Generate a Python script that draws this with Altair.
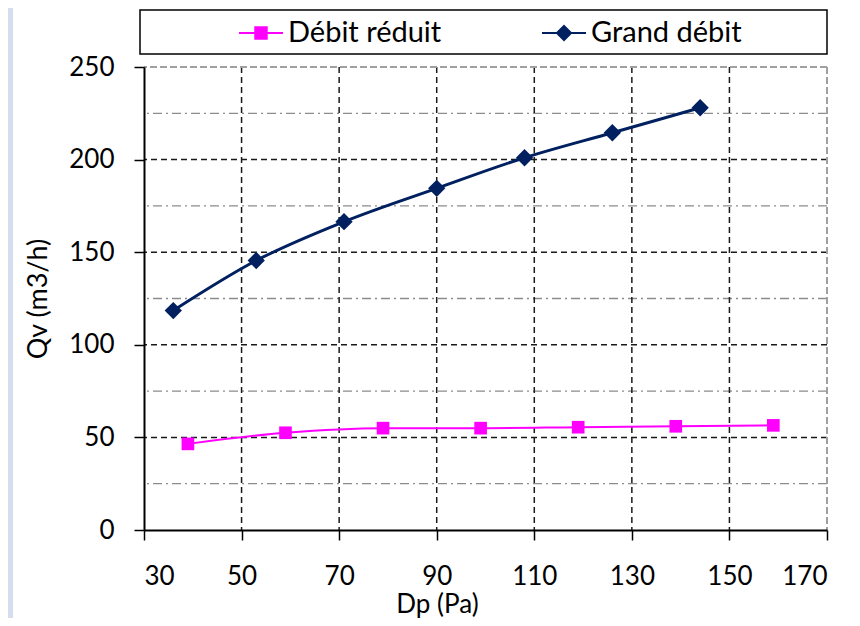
import altair as alt
import pandas as pd

# ---- data ----
series_names = ["Débit réduit", "Grand débit"]
series_colors = ["#FF00FF", "#002060"]

dp_reduit = [39, 59, 79, 99, 119, 139, 159]
qv_reduit = [46.5, 52.5, 55, 55, 55.5, 56, 56.5]

dp_grand = [36, 53, 71, 90, 108, 126, 144]
qv_grand = [118.5, 145.5, 166.5, 184.5, 201, 214.5, 228]

x_ticks = [30, 50, 70, 90, 110, 130, 150, 170]
y_ticks = [0, 50, 100, 150, 200, 250]
x_grid = [50, 70, 90, 110, 130, 150]
y_grid_major = [50, 100, 150, 200]
y_grid_minor = [25, 75, 125, 175, 225]
x_border = [170]
y_border = [250]

FONT = "Lato"
W, H = 683, 463

df = pd.DataFrame(
    {
        "Dp": dp_reduit + dp_grand,
        "Qv": qv_reduit + qv_grand,
        "Série": [series_names[0]] * len(dp_reduit) + [series_names[1]] * len(dp_grand),
    }
)

xscale = alt.Scale(domain=[30, 170], nice=False, zero=False)
yscale = alt.Scale(domain=[0, 250], nice=False)

# legend symbols: a line segment through a marker
legend_shapes = [
    "M-1,0H1M-0.26,-0.26H0.26V0.26H-0.26Z",
    "M-1,0H1M0,-0.32L0.32,0L0,0.32L-0.32,0Z",
]

x_axis = alt.Axis(
    values=x_ticks,
    title="Dp (Pa)",
    grid=False,
    domainColor="#000000",
    domainWidth=2,
    tickColor="#000000",
    tickWidth=1.5,
    tickSize=10,
    labelPadding=23,
    labelFont=FONT,
    labelFontSize=26,
    labelColor="#000000",
    titleFont=FONT,
    titleFontSize=26,
    titleFontWeight="normal",
    titleColor="#000000",
    titlePadding=2,
    titleX=293,
    titleAnchor="start",
    titleAlign="center",
    zindex=1,
)
y_axis = alt.Axis(
    values=y_ticks,
    title="Qv (m3/h)",
    grid=False,
    domainColor="#000000",
    domainWidth=2,
    tickColor="#000000",
    tickWidth=1.5,
    tickSize=10,
    labelPadding=20,
    labelFont=FONT,
    labelFontSize=26,
    labelColor="#000000",
    titleFont=FONT,
    titleFontSize=27,
    titleFontWeight="normal",
    titleColor="#000000",
    titlePadding=16,
    zindex=1,
)

one = pd.DataFrame({"a": [0]})

strip = alt.Chart(one).mark_rect(color="#D5DEEF").encode(
    x=alt.value(-136), x2=alt.value(-131), y=alt.value(-59), y2=alt.value(H + 90)
)

legend_frame = alt.Chart(one).mark_rect(
    fill="transparent", stroke="#000000", strokeWidth=1.5
).encode(x=alt.value(-4), x2=alt.value(W), y=alt.value(-57), y2=alt.value(-13))

GRID_COL = "#1A1A1A"
vgrid = alt.Chart(pd.DataFrame({"Dp": x_grid})).mark_rule(
    color=GRID_COL, strokeDash=[6, 4], strokeWidth=1.5
).encode(x=alt.X("Dp:Q", scale=xscale, axis=x_axis))

hgrid = alt.Chart(pd.DataFrame({"Qv": y_grid_major})).mark_rule(
    color=GRID_COL, strokeDash=[6, 4], strokeWidth=1.5
).encode(y=alt.Y("Qv:Q", scale=yscale, axis=y_axis))

hminor = alt.Chart(pd.DataFrame({"Qv": y_grid_minor})).mark_rule(
    color="#8C8C8C", strokeDash=[9, 4, 2, 4], strokeWidth=1.3
).encode(y=alt.Y("Qv:Q", scale=yscale, axis=y_axis))

vborder = alt.Chart(pd.DataFrame({"Dp": x_border})).mark_rule(
    color="#A0A0A0", strokeDash=[7, 3], strokeWidth=2
).encode(x=alt.X("Dp:Q", scale=xscale, axis=x_axis))

hborder = alt.Chart(pd.DataFrame({"Qv": y_border})).mark_rule(
    color="#A0A0A0", strokeDash=[7, 3], strokeWidth=2
).encode(y=alt.Y("Qv:Q", scale=yscale, axis=y_axis))

legend_def = alt.Legend(
    title=None,
    orient="none",
    direction="horizontal",
    legendX=94,
    legendY=-57,
    padding=0,
    symbolSize=1936,
    symbolStrokeWidth=2,
    symbolOpacity=1,
    labelFont=FONT,
    labelFontSize=29,
    labelColor="#000000",
    labelOffset=4,
    columnPadding=96,
    labelLimit=400,
)

color_enc = alt.Color(
    "Série:N", scale=alt.Scale(domain=series_names, range=series_colors), legend=legend_def
)
shape_enc = alt.Shape(
    "Série:N", scale=alt.Scale(domain=series_names, range=legend_shapes), legend=legend_def
)

base = alt.Chart(df).encode(
    x=alt.X("Dp:Q", scale=xscale, axis=x_axis),
    y=alt.Y("Qv:Q", scale=yscale, axis=y_axis),
    color=color_enc,
)

line_r = base.transform_filter(alt.datum["Série"] == series_names[0]).mark_line(
    interpolate="monotone", strokeWidth=2
)
line_g = base.transform_filter(alt.datum["Série"] == series_names[1]).mark_line(
    interpolate="monotone", strokeWidth=3
)
pts_r = base.transform_filter(alt.datum["Série"] == series_names[0]).mark_point(
    shape="square", filled=True, size=160, opacity=1
)
pts_g = base.transform_filter(alt.datum["Série"] == series_names[1]).mark_point(
    shape="diamond", filled=True, size=300, opacity=1
)

# legend-only layer: a shape channel with line+marker symbols, no visible data
legend_layer = (
    base.transform_filter(alt.datum["Dp"] > 1000)
    .mark_point(filled=False, opacity=1, strokeWidth=2)
    .encode(shape=shape_enc)
)

chart = (
    alt.layer(
        strip, legend_frame, hminor, vgrid, hgrid, vborder, hborder,
        line_r, line_g, pts_r, pts_g, legend_layer,
    )
    .properties(
        width=W,
        height=H,
        autosize=alt.AutoSizeParams(type="none"),
        padding={"left": 136, "top": 59, "right": 25, "bottom": 88},
        background="white",
    )
    .configure_view(stroke=None)
)

chart.save("out.html", embed_options={"renderer": "svg", "actions": False})
